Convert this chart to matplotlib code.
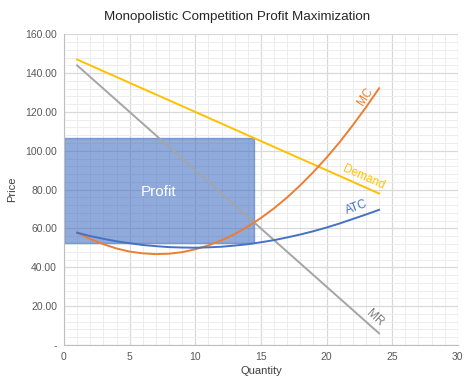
#!/usr/bin/env python3
"""Monopolistic competition profit maximization chart."""
import matplotlib
matplotlib.use("Agg")
import matplotlib.pyplot as plt
from matplotlib.patches import Rectangle
from matplotlib.ticker import MultipleLocator, FuncFormatter

quantity = list(range(1, 25))
demand = [147, 144, 141, 138, 135, 132, 129, 126, 123, 120, 117, 114,
          111, 108, 105, 102, 99, 96, 93, 90, 87, 84, 81, 78]
mr = [144, 138, 132, 126, 120, 114, 108, 102, 96, 90, 84, 78,
      72, 66, 60, 54, 48, 42, 36, 30, 24, 18, 12, 6]
mc = [58.0, 54.6, 51.9, 49.7, 48.1, 47.2, 46.8, 47.0, 47.8, 49.3, 51.3, 53.9,
      57.1, 61.0, 65.4, 70.4, 76.0, 82.3, 89.1, 96.5, 104.5, 113.2, 122.4, 132.2]
atc = [57.8, 56.1, 54.7, 53.4, 52.4, 51.5, 50.9, 50.4, 50.2, 50.1, 50.3, 50.6,
       51.2, 51.9, 52.9, 54.0, 55.4, 56.9, 58.6, 60.5, 62.6, 64.9, 67.2, 69.6]

profit_q = 14.5
profit_price = 106.5
profit_atc = 52.3

colors = {"MC": "#ED7D31", "Demand": "#FFC000", "ATC": "#4472C4", "MR": "#A5A5A5"}

plt.rcParams["font.family"] = ["Liberation Sans", "DejaVu Sans"]

fig = plt.figure(figsize=(4.74, 3.86), dpi=100)
ax = fig.add_axes([0.135, 0.1062, 0.831, 0.805])

ax.set_xlim(0, 30)
ax.set_ylim(0, 160)
ax.xaxis.set_major_locator(MultipleLocator(5))
ax.xaxis.set_minor_locator(MultipleLocator(1))
ax.yaxis.set_major_locator(MultipleLocator(20))
ax.yaxis.set_minor_locator(MultipleLocator(4))
ax.yaxis.set_major_formatter(FuncFormatter(lambda v, _: "-" if v == 0 else f"{v:.2f}"))
ax.grid(which="major", color="#D9D9D9", linewidth=0.9, zorder=0)
ax.grid(which="minor", color="#EDEDED", linewidth=0.7, zorder=0)
ax.set_axisbelow(True)
for side in ("top", "right"):
    ax.spines[side].set_visible(False)
for side in ("left", "bottom"):
    ax.spines[side].set_color("#BFBFBF")
ax.tick_params(which="both", length=0, colors="#595959", labelsize=7.5, pad=5)

ax.add_patch(Rectangle((0, profit_atc), profit_q, profit_price - profit_atc,
                       facecolor="#4472C4", alpha=0.6, edgecolor="#4472C4",
                       linewidth=1, zorder=2))
ax.text(7.2, 79, "Profit", color="white", fontsize=11, ha="center", va="center", zorder=3)

ax.plot(quantity, demand, color=colors["Demand"], lw=1.4, zorder=4)
ax.plot(quantity, mr, color=colors["MR"], lw=1.4, zorder=4)
ax.plot(quantity, mc, color=colors["MC"], lw=1.4, zorder=4)
ax.plot(quantity, atc, color=colors["ATC"], lw=1.4, zorder=4)

ax.text(23.0, 128, "MC", color=colors["MC"], fontsize=8.5, rotation=57, ha="center", va="center")
ax.text(22.8, 86.2, "Demand", color=colors["Demand"], fontsize=8.5, rotation=-24, ha="center", va="center")
ax.text(22.3, 70.8, "ATC", color=colors["ATC"], fontsize=8.5, rotation=20, ha="center", va="center")
ax.text(23.7, 13.7, "MR", color="#7F7F7F", fontsize=8.5, rotation=-42, ha="center", va="center")

ax.set_xlabel("Quantity", fontsize=8, color="#404040", labelpad=3)
ax.set_ylabel("Price", fontsize=8, color="#404040", labelpad=6)
fig.suptitle("Monopolistic Competition Profit Maximization", fontsize=9.6, color="#262626", y=0.972)

fig.savefig("out.png", dpi=100)
